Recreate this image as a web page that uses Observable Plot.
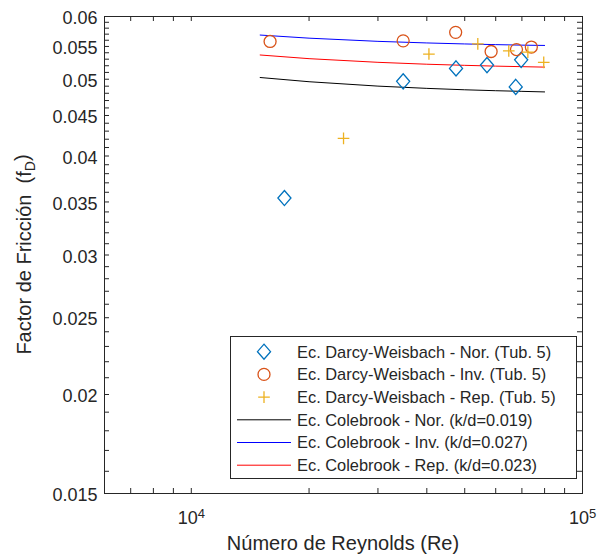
<!DOCTYPE html>
<html><head><meta charset="utf-8">
<script src="https://cdn.jsdelivr.net/npm/d3@7"></script>
<script src="https://cdn.jsdelivr.net/npm/@observablehq/plot@0.6"></script>
<style>
body{margin:0;background:#fff;font-family:"Liberation Sans",Arial,sans-serif}
#chart svg{display:block}
</style>
</head><body><div id="chart"></div>
<script>
// Measured points (Darcy-Weisbach, Tub. 5)
const reNor = [17300, 34800, 47500, 57000, 67500, 69700];
const fNor  = [0.0354, 0.0497, 0.0516, 0.0521, 0.0489, 0.0529];
const reInv = [15900, 34800, 47400, 58400, 67800, 74000];
const fInv  = [0.0558, 0.0559, 0.0573, 0.0542, 0.0545, 0.0549];
const reRep = [24500, 40500, 54000, 64800, 72500, 79600];
const fRep  = [0.0421, 0.0538, 0.0554, 0.0543, 0.0541, 0.0525];
// Colebrook curves
const reCurve  = [15000, 20000, 30000, 40000, 50000, 60000, 70000, 80000];
const fColNor  = [0.05025, 0.04964, 0.04901, 0.04869, 0.04849, 0.04836, 0.04827, 0.04819];
const fColInv  = [0.05685, 0.05634, 0.05582, 0.05556, 0.05540, 0.05529, 0.05521, 0.05516];
const fColRep  = [0.05365, 0.05308, 0.05252, 0.05223, 0.05206, 0.05194, 0.05186, 0.05179];
// Ticks
const xTickLabels = [10000, 100000];
const xTickMinor = [7000, 8000, 9000, 10000, 20000, 30000, 40000, 50000, 60000, 70000, 80000, 90000];
const yTickLabels = [0.015, 0.02, 0.025, 0.03, 0.035, 0.04, 0.045, 0.05, 0.055, 0.06];
const yTickMinor = d3.range(15, 61).map(d => d / 1000);
// Legend
const legendLabels = [
  "Ec. Darcy-Weisbach - Nor. (Tub. 5)",
  "Ec. Darcy-Weisbach - Inv. (Tub. 5)",
  "Ec. Darcy-Weisbach - Rep. (Tub. 5)",
  "Ec. Colebrook - Nor. (k/d=0.019)",
  "Ec. Colebrook - Inv. (k/d=0.027)",
  "Ec. Colebrook - Rep. (k/d=0.023)"
];
const colors = {nor: "#0072BD", inv: "#D95319", rep: "#EDB120"};
const lineColors = ["#000000", "#0000FF", "#FF0000"];

const ink = "#262626";
const W = 597, H = 557, ML = 104, MR = 15, MT = 16, MB = 64;
const frameW = W - ML - MR, frameH = H - MT - MB, tickLen = 5;
const pts = (xs, ys) => xs.map((x, i) => ({x, y: ys[i]}));

const diamond = {draw(ctx, size) {
  const s = Math.sqrt(size); const w = s * 0.82, h = s * 0.95;
  ctx.moveTo(0, -h); ctx.lineTo(w, 0); ctx.lineTo(0, h); ctx.lineTo(-w, 0); ctx.closePath();
}};
const plus = {draw(ctx, size) {
  const a = Math.sqrt(size) * 0.73;
  ctx.moveTo(-a, 0); ctx.lineTo(a, 0); ctx.moveTo(0, -a); ctx.lineTo(0, a);
}};

const chart = Plot.plot({
  width: W, height: H,
  marginLeft: ML, marginRight: MR, marginTop: MT, marginBottom: MB,
  style: {fontFamily: "'Liberation Sans', Arial, sans-serif", fontSize: "18px", color: ink, background: "#fff", overflow: "visible"},
  x: {type: "log", domain: [6000, 100000]},
  y: {type: "log", domain: [0.015, 0.06]},
  marks: [
    // inward ticks on all four sides
    Plot.tickX(xTickMinor, {x: d => d, insetTop: frameH - tickLen, stroke: ink, strokeWidth: 1}),
    Plot.tickX(xTickMinor, {x: d => d, insetBottom: frameH - tickLen, stroke: ink, strokeWidth: 1}),
    Plot.tickY(yTickMinor, {y: d => d, insetRight: frameW - tickLen, stroke: ink, strokeWidth: 1}),
    Plot.tickY(yTickMinor, {y: d => d, insetLeft: frameW - tickLen, stroke: ink, strokeWidth: 1}),
    Plot.axisY({anchor: "left", ticks: yTickLabels, tickSize: 0, tickPadding: 7, dy: 2, tickFormat: d => String(d), label: null}),
    Plot.axisX({anchor: "bottom", ticks: xTickLabels, tickSize: 0, tickPadding: 18, tickFormat: d => "10^" + Math.round(Math.log10(d)), label: null}),
    Plot.line(pts(reCurve, fColNor), {x: "x", y: "y", stroke: lineColors[0], strokeWidth: 1}),
    Plot.line(pts(reCurve, fColInv), {x: "x", y: "y", stroke: lineColors[1], strokeWidth: 1}),
    Plot.line(pts(reCurve, fColRep), {x: "x", y: "y", stroke: lineColors[2], strokeWidth: 1}),
    Plot.dot(pts(reNor, fNor), {x: "x", y: "y", symbol: diamond, r: 4.5, stroke: colors.nor, fill: "none", strokeWidth: 1.3}),
    Plot.dot(pts(reInv, fInv), {x: "x", y: "y", symbol: "circle", r: 6, stroke: colors.inv, fill: "none", strokeWidth: 1.3}),
    Plot.dot(pts(reRep, fRep), {x: "x", y: "y", symbol: plus, r: 4.5, stroke: colors.rep, fill: "none", strokeWidth: 1.3}),
    Plot.frame({stroke: ink, strokeWidth: 1})
  ]
});
document.getElementById("chart").appendChild(chart);

const svg = d3.select(chart);
// superscript exponents on x tick labels
svg.selectAll('g[aria-label="x-axis tick label"] text').each(function() {
  const t = d3.select(this); const s = t.text(); const parts = s.split("^");
  if (parts.length === 2) {
    t.text("");
    t.append("tspan").text(parts[0]);
    t.append("tspan").attr("dy", "-0.45em").attr("font-size", "13px").text(parts[1]);
  }
});

// axis labels
const fx = chart.scale("x"), fy = chart.scale("y");
const xMid = (fx.range[0] + fx.range[1]) / 2;
const yMid = (fy.range[0] + fy.range[1]) / 2;
svg.append("text").attr("x", xMid).attr("y", 550).attr("text-anchor", "middle")
  .attr("font-size", "20px").attr("fill", ink).text("Número de Reynolds (Re)");
const yl = svg.append("text").attr("transform", `translate(31,${yMid}) rotate(-90)`)
  .attr("text-anchor", "middle").attr("font-size", "20px").attr("fill", ink).style("white-space", "pre");
yl.append("tspan").text("Factor de Fricción  (f");
yl.append("tspan").attr("dy", "0.3em").attr("font-size", "14px").text("D");
yl.append("tspan").attr("dy", "-0.3em").text(")");

// legend
const lg = svg.append("g").attr("aria-label", "legend").attr("text-anchor", "start");
lg.append("rect").attr("x", 230.5).attr("y", 336.5).attr("width", 346).attr("height", 142)
  .attr("fill", "#fff").attr("stroke", ink).attr("stroke-width", 1);
const rowY = i => 351.7 + i * 22.7;
const symPath = (sym, r) => d3.symbol(sym, Math.PI * r * r)();
legendLabels.forEach((lab, i) => {
  const y = rowY(i);
  if (i === 0) lg.append("path").attr("transform", `translate(264,${y})`).attr("d", symPath(diamond, 4.5)).attr("fill", "none").attr("stroke", colors.nor).attr("stroke-width", 1.3);
  if (i === 1) lg.append("path").attr("transform", `translate(264,${y})`).attr("d", symPath(d3.symbolCircle, 6)).attr("fill", "none").attr("stroke", colors.inv).attr("stroke-width", 1.3);
  if (i === 2) lg.append("path").attr("transform", `translate(264,${y})`).attr("d", symPath(plus, 4.5)).attr("fill", "none").attr("stroke", colors.rep).attr("stroke-width", 1.3);
  if (i >= 3) lg.append("line").attr("x1", 237).attr("x2", 291).attr("y1", y).attr("y2", y).attr("stroke", lineColors[i - 3]).attr("stroke-width", 1);
  lg.append("text").attr("x", 297).attr("y", y).attr("dy", "0.36em").attr("text-anchor", "start").attr("font-size", "16.4px").attr("fill", ink).text(lab);
});
</script>
</body></html>
